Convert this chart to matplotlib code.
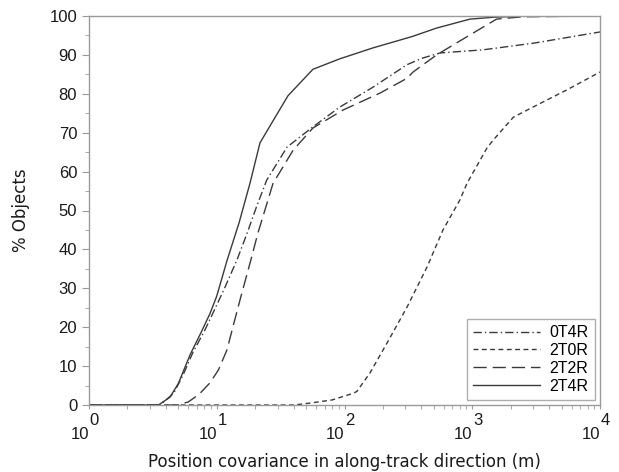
import numpy as np
import matplotlib
matplotlib.use("Agg")
import matplotlib.pyplot as plt
from matplotlib.ticker import LogLocator, MultipleLocator, FixedLocator

# (x in metres, y in % of objects)
x_0t4r = [1, 3.6, 4.6, 5.5, 6.5, 8.0, 9.3, 11.5, 14.4, 17.3, 20.5, 24.6, 35.5, 56.6, 92, 167, 309, 410, 560, 1210, 3000, 10000]
y_0t4r = [0, 0, 3, 8, 13.5, 19, 23.5, 30, 37.3, 44.2, 51, 57.8, 66.3, 71.5, 76.6, 81.7, 87.5, 89.2, 90.5, 91.3, 93, 95.9]

x_2t0r = [1, 40, 54, 80, 117, 125, 158, 215, 309, 443, 590, 800, 910, 1300, 1450, 2100, 3390, 5500, 10000]
y_2t0r = [0, 0, 0.5, 1.3, 3, 3.5, 8.2, 15.9, 25.2, 35.5, 45, 52.7, 57, 66, 68, 74, 77.5, 81, 85.6]

x_2t2r = [1, 4.9, 6.0, 7.3, 8.85, 10.3, 12, 15.2, 18.5, 21, 27.6, 39.6, 56.6, 97, 190, 309, 344, 526, 850, 1550, 2500, 10000]
y_2t2r = [0, 0, 0.8, 2.8, 5.7, 9.0, 14.1, 27, 37.3, 44.2, 57, 65.5, 71.2, 75.8, 80.2, 84, 85.6, 90, 94.1, 99.2, 99.8, 100]

x_2t4r = [1, 3.5, 4.3, 5.0, 6.2, 7.5, 8.85, 10, 12.0, 15, 18.2, 21.8, 36.1, 56.6, 92, 167, 271, 344, 526, 960, 1500, 2800, 10000]
y_2t4r = [0, 0, 2, 5.5, 13, 18.5, 23.5, 28, 37, 47, 57, 67.4, 79.5, 86.3, 89, 91.8, 93.8, 94.8, 96.9, 99.2, 99.7, 100, 100]

labels = ["0T4R", "2T0R", "2T2R", "2T4R"]
xs_all = [x_0t4r, x_2t0r, x_2t2r, x_2t4r]
ys_all = [y_0t4r, y_2t0r, y_2t2r, y_2t4r]
styles = [(0, (6, 2.2, 1, 2.2)), (0, (3.5, 2.5)), (0, (9.5, 4.3)), "-"]

plt.rcParams["lines.scale_dashes"] = False
plt.rcParams["font.family"] = ["Liberation Sans", "DejaVu Sans"]

fig = plt.figure(figsize=(6.19, 4.72), dpi=100)
ax = fig.add_axes([89 / 619, 1 - 405 / 472, 511 / 619, 389 / 472])

line_col = "#3a3a3a"
txt_col = "#1a1a1a"
for name, xs, ys, ls in zip(labels, xs_all, ys_all, styles):
    ax.plot(xs, ys, color=line_col, lw=1.0, linestyle=ls, label=name)

ax.set_xscale("log")
ax.set_xlim(1, 1e4)
ax.set_ylim(0, 100)

decades = [1, 10, 100, 1000, 10000]
ax.xaxis.set_major_locator(FixedLocator(decades))
ax.set_xticklabels(["10"] * len(decades), ha="right")
ax.xaxis.set_minor_locator(LogLocator(base=10, subs=np.arange(2, 10)))
ax.yaxis.set_major_locator(MultipleLocator(10))
ax.yaxis.set_minor_locator(MultipleLocator(5))

# exponents drawn as separate text, same size as the base (as in the original)
for k, d in enumerate(decades):
    ax.annotate(str(k), xy=(d, 0), xycoords=("data", "axes fraction"),
                xytext=(0.5, -5.5), textcoords="offset points",
                ha="left", va="top", fontsize=12, color=txt_col)

spine_col = "#9a9a9a"
for s in ax.spines.values():
    s.set_color(spine_col)
    s.set_linewidth(1.0)
ax.tick_params(which="both", colors=spine_col, labelcolor=txt_col, labelsize=12)
ax.tick_params(which="major", length=5)
ax.tick_params(which="minor", length=3)
ax.tick_params(axis="x", which="both", length=3, pad=13)

ax.set_xlabel("Position covariance in along-track direction (m)", fontsize=12,
              family=["DejaVu Sans"], color=txt_col, labelpad=8)
ax.set_ylabel("% Objects", fontsize=12, family=["DejaVu Sans"], color=txt_col, labelpad=14)

leg = ax.legend(loc="lower right", fontsize=11.5, handlelength=4.2, frameon=True,
                fancybox=False, borderaxespad=0.3, labelspacing=0.18,
                handletextpad=0.6, borderpad=0.4)
leg.get_frame().set_edgecolor(spine_col)
leg.get_frame().set_linewidth(1.0)

fig.savefig("out.png", dpi=100)
